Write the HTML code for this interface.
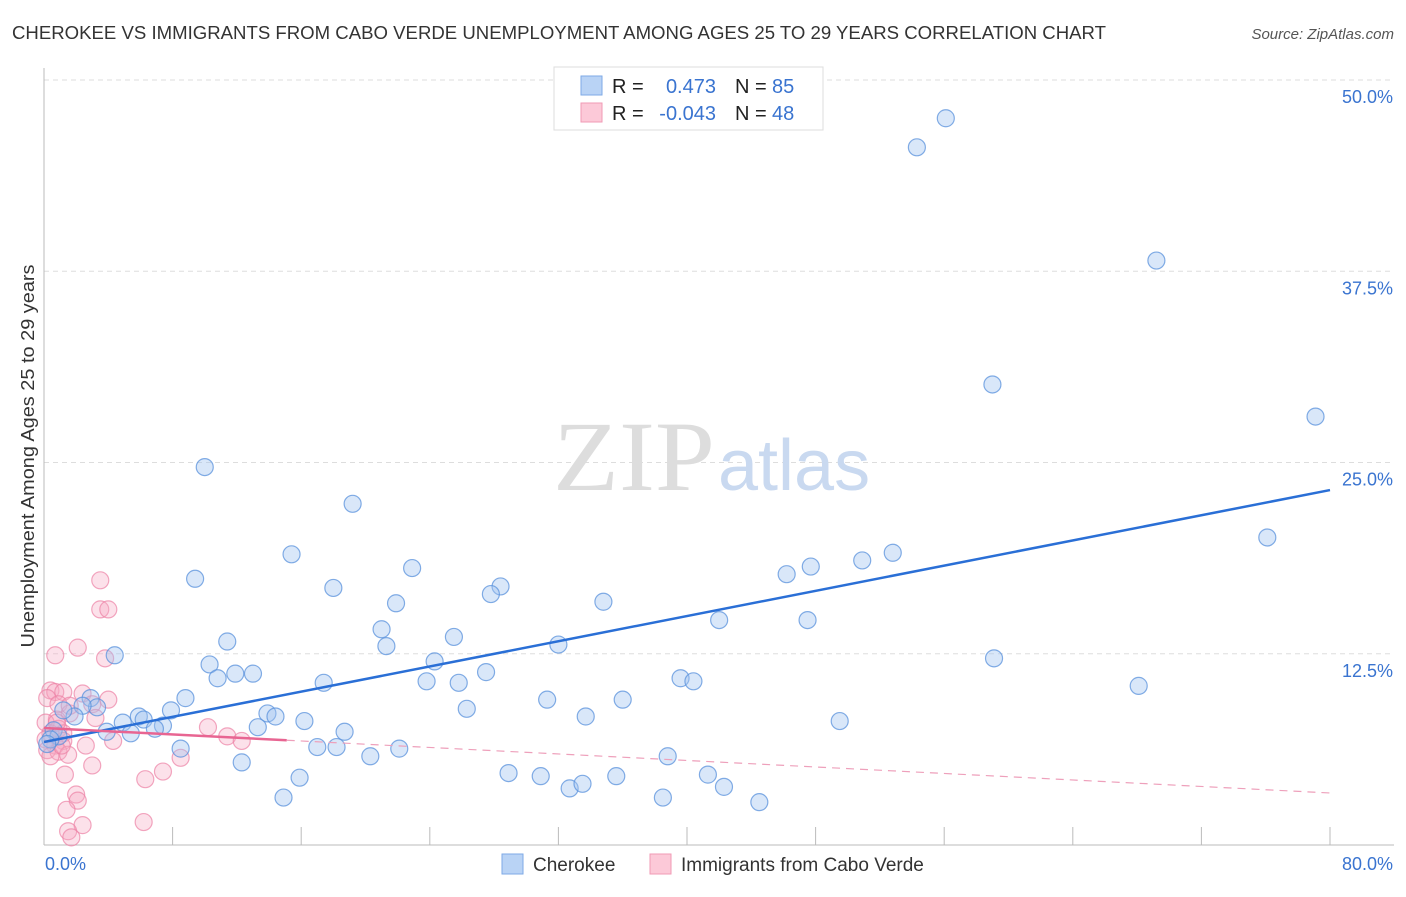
<!DOCTYPE html>
<html><head><meta charset="utf-8"><style>
body{margin:0;background:#fff;font-family:"Liberation Sans",sans-serif;}
</style></head><body>
<svg id="chart" width="1406" height="892" viewBox="0 0 1406 892" xmlns="http://www.w3.org/2000/svg" font-family="Liberation Sans, sans-serif">
<text x="12" y="39" font-size="18" fill="#333" textLength="1094" lengthAdjust="spacingAndGlyphs">CHEROKEE VS IMMIGRANTS FROM CABO VERDE UNEMPLOYMENT AMONG AGES 25 TO 29 YEARS CORRELATION CHART</text>
<text x="1394" y="39" font-size="15" fill="#555" font-style="italic" text-anchor="end">Source: ZipAtlas.com</text>
<g id="grid"></g>
<g id="axes"></g>
<text x="553" y="490" font-size="100" fill="#ddd" style="font-family:'Liberation Serif',serif" textLength="162" lengthAdjust="spacingAndGlyphs">ZIP</text>
<text x="718" y="490" font-size="72" fill="#c9d9f0">atlas</text>
<g id="points"></g>
<g id="lines"></g>
<text transform="translate(34,456) rotate(-90)" font-size="18" fill="#333" text-anchor="middle" textLength="383" lengthAdjust="spacingAndGlyphs">Unemployment Among Ages 25 to 29 years</text>
<g>
<rect x="554" y="67" width="269" height="63" fill="#fff" stroke="#ddd"/>
<rect x="581" y="76" width="21" height="19" fill="#b9d3f5" stroke="#7eaae6"/>
<rect x="581" y="103" width="21" height="19" fill="#fcc9d8" stroke="#f09ab5"/>
<text x="612" y="93" font-size="20" fill="#222">R =</text>
<text x="716" y="93" font-size="20" fill="#3a74d0" text-anchor="end">0.473</text>
<text x="735" y="93" font-size="20" fill="#222">N =</text>
<text x="772" y="93" font-size="20" fill="#3a74d0">85</text>
<text x="612" y="120" font-size="20" fill="#222">R =</text>
<text x="716" y="120" font-size="20" fill="#3a74d0" text-anchor="end">-0.043</text>
<text x="735" y="120" font-size="20" fill="#222">N =</text>
<text x="772" y="120" font-size="20" fill="#3a74d0">48</text>
</g>
<g>
<rect x="502" y="854" width="21" height="20" fill="#b9d3f5" stroke="#7eaae6"/>
<text x="533" y="871" font-size="19" fill="#333">Cherokee</text>
<rect x="650" y="854" width="21" height="20" fill="#fcc9d8" stroke="#f09ab5"/>
<text x="681" y="871" font-size="19" fill="#333">Immigrants from Cabo Verde</text>
</g>
</svg>
<script>
const yTicks=[12.5,25,37.5,50];
const yTickLabels=["12.5%","25.0%","37.5%","50.0%"];
const xTicks=[8,16,24,32,40,48,56,64,72,80];
const xEndLabels=["0.0%","80.0%"];
const cherokeeX=[56.1,54.3,69.2,59.0,79.1,10.0,19.2,76.1,15.4,52.8,50.9,47.7,22.9,46.2,9.4,18.0,28.4,27.8,21.9,34.8,21.0,42.0,47.5,25.5,11.4,21.3,32.0,4.4,59.1,24.3,10.3,11.9,13.0,10.8,27.5,39.6,40.4,17.4,23.8,25.8,68.1,8.8,31.3,36.0,2.9,3.3,26.3,2.4,7.9,5.9,13.9,14.4,33.7,49.5,4.9,6.2,16.2,7.4,6.9,1.9,1.2,13.3,18.7,3.9,5.4,0.6,0.9,8.5,17.0,18.2,22.1,38.8,20.3,12.3,28.9,15.9,30.9,41.3,35.6,32.7,33.5,42.3,14.9,38.5,44.5,0.4,0.2];
const cherokeeY=[47.5,45.6,38.2,30.1,28.0,24.7,22.3,20.1,19.0,19.1,18.6,18.2,18.1,17.7,17.4,16.8,16.9,16.4,15.8,15.9,14.1,14.7,14.7,13.6,13.3,13.0,13.1,12.4,12.2,12.0,11.8,11.2,11.2,10.9,11.3,10.9,10.7,10.6,10.7,10.6,10.4,9.6,9.5,9.5,9.6,9.0,8.9,9.1,8.8,8.4,8.6,8.4,8.4,8.1,8.0,8.2,8.1,7.8,7.6,8.4,8.8,7.7,7.4,7.4,7.3,7.5,7.1,6.3,6.4,6.4,6.3,5.8,5.8,5.4,4.7,4.4,4.5,4.6,4.5,3.7,4.0,3.8,3.1,3.1,2.8,6.9,6.6];
const caboX=[3.5,3.5,4.0,2.1,0.7,3.8,0.4,0.7,1.2,2.4,4.0,0.2,0.9,3.0,1.6,3.2,0.8,0.1,10.2,0.9,1.2,0.4,0.1,11.4,12.3,1.2,4.3,2.6,0.7,0.2,0.9,8.5,1.5,0.4,3.0,1.3,7.4,6.3,2.0,2.1,1.4,6.2,2.4,1.5,1.7,0.8,1.6,1.1];
const caboY=[17.3,15.4,15.4,12.9,12.4,12.2,10.1,10.0,10.0,9.9,9.5,9.6,9.2,9.2,8.6,8.3,8.2,8.0,7.7,7.6,7.3,7.3,6.9,7.1,6.8,6.8,6.8,6.5,6.5,6.2,6.1,5.7,5.9,5.8,5.2,4.6,4.8,4.3,3.3,2.9,2.3,1.5,1.3,0.9,0.5,8.0,9.1,6.5];
const cherokeeTrend=[6.73,23.2];
const caboTrend=[7.65,3.4];
const caboSolidEnd=15.1;

const NS="http://www.w3.org/2000/svg";
const X0=44,X1=1330,Y0=845,Y1=80;
function sx(v){return X0+(X1-X0)*v/80;}
function sy(v){return Y0-(Y0-Y1)*v/50;}
function mk(tag,attrs,parent){const e=document.createElementNS(NS,tag);for(const k in attrs)e.setAttribute(k,attrs[k]);parent.appendChild(e);return e;}
const grid=document.getElementById('grid'),axes=document.getElementById('axes'),pts=document.getElementById('points'),lines=document.getElementById('lines');
yTicks.forEach((t,i)=>{
  const l=mk('line',{x1:X0,x2:1394,y1:sy(t),y2:sy(t),stroke:'#ddd','stroke-dasharray':'5,4'},grid);
  
  
  const tx=mk('text',{x:1393,y:sy(t)+23,'font-size':18,fill:'#3a74d0','text-anchor':'end'},axes);
  tx.textContent=yTickLabels[i];
  
  
});
const ya=mk('line',{x1:X0,x2:X0,y1:68,y2:Y0,stroke:'#bbb'},axes);


const xa=mk('line',{x1:X0,x2:1394,y1:Y0,y2:Y0,stroke:'#bbb'},axes);


xTicks.forEach(t=>{
  const l=mk('line',{x1:sx(t),x2:sx(t),y1:Y0-18,y2:Y0,stroke:'#bbb'},axes);
  
  
});
[[0,'start',45],[80,'end',1393]].forEach((d,i)=>{
  const tx=mk('text',{x:d[2],y:870,'font-size':18,fill:'#3a74d0','text-anchor':d[1]},axes);
  tx.textContent=xEndLabels[i];
  
  
});
caboX.forEach((x,i)=>{
  const c=mk('circle',{cx:sx(x),cy:sy(caboY[i]),r:8.5,fill:'rgba(246,170,196,0.35)',stroke:'rgba(236,130,165,0.7)','stroke-width':1.2},pts);
  
  
});
cherokeeX.forEach((x,i)=>{
  const c=mk('circle',{cx:sx(x),cy:sy(cherokeeY[i]),r:8.5,fill:'rgba(160,196,240,0.4)',stroke:'rgba(90,145,220,0.75)','stroke-width':1.2},pts);
  
  
});
function ty(tr,x){return tr[0]+(tr[1]-tr[0])*x/80;}
const bl=mk('line',{x1:sx(0),y1:sy(cherokeeTrend[0]),x2:sx(80),y2:sy(cherokeeTrend[1]),stroke:'#2a6fd6','stroke-width':2.5},lines);


const pl=mk('line',{x1:sx(0),y1:sy(caboTrend[0]),x2:sx(caboSolidEnd),y2:sy(ty(caboTrend,caboSolidEnd)),stroke:'#e86592','stroke-width':2.5},lines);


const pd=mk('line',{x1:sx(caboSolidEnd),y1:sy(ty(caboTrend,caboSolidEnd)),x2:sx(80),y2:sy(caboTrend[1]),stroke:'#eea0bb','stroke-width':1.2,'stroke-dasharray':'8,6'},lines);


</script>
</body></html>
